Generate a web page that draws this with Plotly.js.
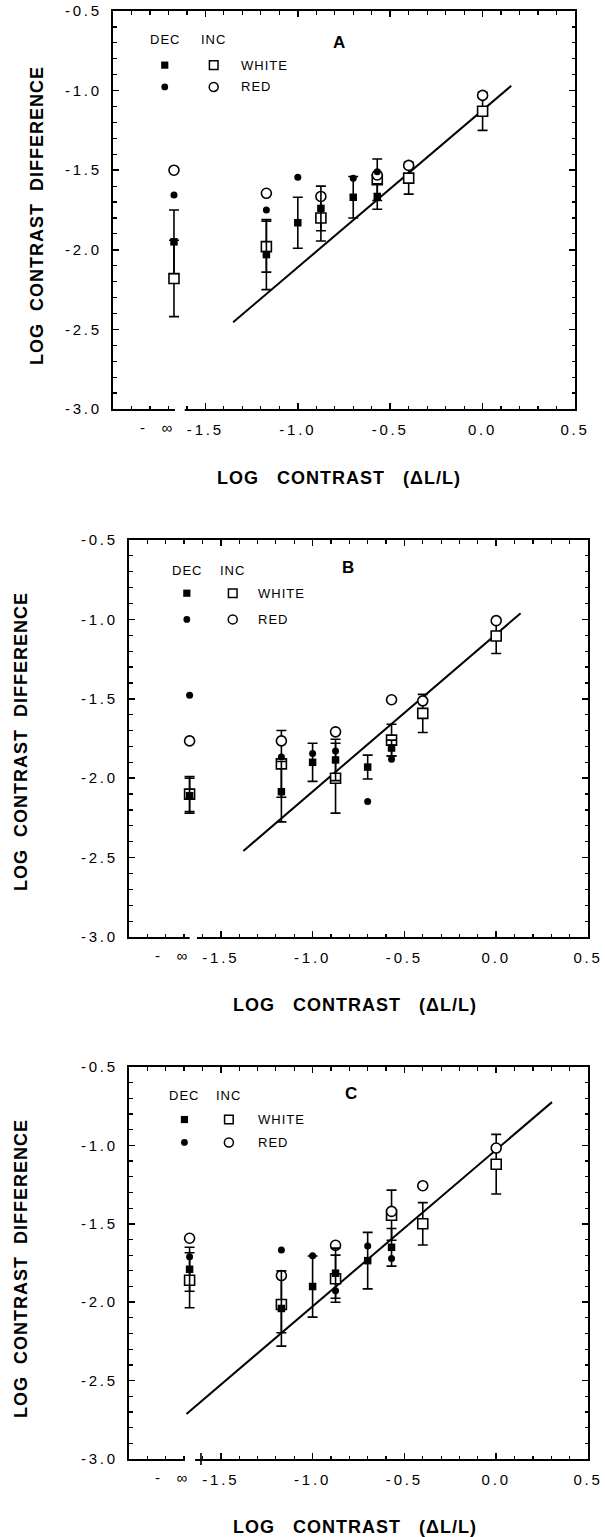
<!DOCTYPE html>
<html>
<head>
<meta charset="utf-8">
<script src="https://cdn.plot.ly/plotly-3.0.1.min.js"></script>
<style>
html,body{margin:0;padding:0;background:#fff;overflow:hidden;}
#chart{width:605px;height:1537px;}
g.xtick text, g.x2tick text, g.x3tick text, g.ytick text, g.y2tick text, g.y3tick text{letter-spacing:2.8px;}
.annotation-text{letter-spacing:1px;}
</style>
</head>
<body>
<div id="chart"></div>
<script>
// ---------- data ----------
const xDec = [-1.67, -1.17, -1.0, -0.875, -0.70, -0.57];   // first value = "-inf" column
const xInc = [-1.67, -1.17, -0.875, -0.57, -0.40, 0.0];

const xTickVals = [-1.5, -1.0, -0.5, 0.0, 0.5];
const xTickText = ['-1.5', '-1.0', '-0.5', '0.0', '0.5'];
const yTickVals = [-3.0, -2.5, -2.0, -1.5, -1.0, -0.5];
const yTickText = ['-3.0', '-2.5', '-2.0', '-1.5', '-1.0', '-0.5'];

// Panel A
const decWhiteA = [-1.95, -2.03, -1.83, -1.74, -1.67, -1.665];
const decWhiteErrA = [0.20, 0.22, 0.16, 0.14, 0.13, 0.08];
const decRedA = [-1.655, -1.75, -1.545, null, -1.55, -1.51];
const incWhiteA = [-2.18, -1.98, -1.80, -1.56, -1.55, -1.13];
const incWhiteErrA = [0.24, 0.16, 0.145, 0.13, 0.10, 0.12];
const incRedA = [-1.50, -1.645, -1.665, -1.53, -1.47, -1.03];
const lineXA = [-1.35, 0.155];
const lineYA = [-2.455, -0.97];

// Panel B
const decWhiteB = [-2.11, -2.085, -1.90, -1.885, -1.93, -1.81];
const decWhiteErrB = [0.11, 0.19, 0.12, 0.13, 0.075, 0.05];
const decRedB = [-1.477, -1.866, -1.845, -1.828, -2.146, -1.88];
const incWhiteB = [-2.10, -1.91, -2.00, -1.76, -1.592, -1.105];
const incWhiteErrB = [0.11, 0.21, 0.22, 0.10, 0.12, 0.11];
const incRedB = [-1.765, -1.765, -1.708, -1.506, -1.513, -1.008];
const lineXB = [-1.377, 0.133];
const lineYB = [-2.458, -0.961];

// Panel C
const decWhiteC = [-1.79, -2.04, -1.90, -1.815, -1.735, -1.65];
const decWhiteErrC = [0.14, 0.24, 0.195, 0.16, 0.18, 0.12];
const decRedC = [-1.71, -1.667, -1.704, -1.927, -1.641, -1.722];
const incWhiteC = [-1.86, -2.015, -1.85, -1.445, -1.50, -1.12];
const incWhiteErrC = [0.175, 0.18, 0.15, 0.16, 0.135, 0.19];
const incRedC = [-1.592, -1.83, -1.637, -1.421, -1.257, -1.017];
const lineXC = [-1.687, 0.304];
const lineYC = [-2.713, -0.724];

const panelLetters = ['A', 'B', 'C'];
const yTitle = 'LOG\u00A0\u00A0CONTRAST\u00A0\u00A0DIFFERENCE';
const xTitle = 'LOG\u00A0\u00A0\u00A0CONTRAST\u00A0\u00A0\u00A0(\u0394L/L)';
const infLabel = '-\u00A0\u00A0\u00A0\u221E';
const legendHead = ['DEC', 'INC'];
const legendRows = ['WHITE', 'RED'];

// ---------- layout geometry ----------
const W = 605, H = 1537;
const series = [
  {decW: decWhiteA, decWE: decWhiteErrA, decR: decRedA, incW: incWhiteA, incWE: incWhiteErrA, incR: incRedA, lx: lineXA, ly: lineYA},
  {decW: decWhiteB, decWE: decWhiteErrB, decR: decRedB, incW: incWhiteB, incWE: incWhiteErrB, incR: incRedB, lx: lineXB, ly: lineYB},
  {decW: decWhiteC, decWE: decWhiteErrC, decR: decRedC, incW: incWhiteC, incWE: incWhiteErrC, incR: incRedC, lx: lineXC, ly: lineYC}
];
const geom = [
  {id: '',  x0: 113, x1: 575, y0: 11,   y1: 409,  letter: [-0.774, -0.699], ytx: 37, yty: 216,  xtx: 339, xty: 478,
   leg: {dec: -1.72, inc: -1.455, txt: -1.32, hy: -0.676, wy: -0.84, ry: -0.977}, inf: -1.762, gap: [-1.665, -1.612], cross: null},
  {id: '2', x0: 129, x1: 588, y0: 540,  y1: 937,  letter: [-0.806, -0.672], ytx: 21, yty: 742,  xtx: 355, xty: 1005,
   leg: {dec: -1.685, inc: -1.435, txt: -1.31, hy: -0.695, wy: -0.835, ry: -1.0}, inf: -1.77, gap: [-1.67, -1.63], cross: null},
  {id: '3', x0: 129, x1: 588, y0: 1067, y1: 1459, letter: [-0.787, -0.668], ytx: 21, yty: 1269, xtx: 355, xty: 1527,
   leg: {dec: -1.698, inc: -1.456, txt: -1.31, hy: -0.684, wy: -0.835, ry: -0.981}, inf: -1.77, gap: [-1.695, -1.64], cross: -1.608}
];

const FONT = 'Liberation Sans, Arial, Helvetica, sans-serif';
const traces = [];
const shapes = [];
const annotations = [];
const layout = {
  width: W, height: H,
  margin: {l: 0, r: 0, t: 0, b: 0},
  paper_bgcolor: '#ffffff', plot_bgcolor: '#ffffff',
  showlegend: false,
  font: {family: FONT, color: '#000000', size: 13}
};

geom.forEach((g, i) => {
  const s = series[i];
  const xa = 'x' + g.id, ya = 'y' + g.id;
  const xName = 'xaxis' + g.id, yName = 'yaxis' + g.id;
  layout[xName] = {
    domain: [g.x0 / W, g.x1 / W], anchor: ya, range: [-2.0, 0.5],
    tickmode: 'array', tickvals: xTickVals, ticktext: xTickText,
    ticks: 'inside', ticklen: 6, tickwidth: 1.5, tickcolor: '#000',
    showline: true, linewidth: 2, linecolor: '#000', mirror: 'ticks',
    showgrid: false, zeroline: false, fixedrange: true,
    tickfont: {family: FONT, size: 15, color: '#000'}, ticklabelstandoff: 6,
    minor: {dtick: 0.1, tick0: 0, ticks: 'inside', ticklen: 3.5, tickwidth: 1.2, tickcolor: '#000', showgrid: false}
  };
  layout[yName] = {
    domain: [1 - g.y1 / H, 1 - g.y0 / H], anchor: xa, range: [-3.0, -0.5],
    tickmode: 'array', tickvals: yTickVals, ticktext: yTickText,
    ticks: 'inside', ticklen: 6, tickwidth: 1.5, tickcolor: '#000',
    showline: true, linewidth: 2, linecolor: '#000', mirror: 'ticks',
    showgrid: false, zeroline: false, fixedrange: true,
    tickfont: {family: FONT, size: 15, color: '#000'}, ticklabelstandoff: 6,
    minor: {dtick: 0.1, tick0: 0, ticks: 'inside', ticklen: 3.5, tickwidth: 1.2, tickcolor: '#000', showgrid: false}
  };

  // regression line
  traces.push({type: 'scatter', mode: 'lines', x: s.lx, y: s.ly, xaxis: xa, yaxis: ya,
    line: {color: '#000', width: 2}, hoverinfo: 'skip'});
  // INC white (open squares)
  traces.push({type: 'scatter', mode: 'markers', x: xInc, y: s.incW, xaxis: xa, yaxis: ya,
    marker: {symbol: 'square', size: 10, color: '#fff', line: {color: '#000', width: 1.6}},
    error_y: {type: 'data', array: s.incWE, visible: true, color: '#000', thickness: 1.6, width: 5}});
  // INC red (open circles)
  traces.push({type: 'scatter', mode: 'markers', x: xInc, y: s.incR, xaxis: xa, yaxis: ya,
    marker: {symbol: 'circle', size: 10, color: '#fff', line: {color: '#000', width: 1.6}}});
  // DEC white (filled squares)
  traces.push({type: 'scatter', mode: 'markers', x: xDec, y: s.decW, xaxis: xa, yaxis: ya,
    marker: {symbol: 'square', size: 7.5, color: '#000', line: {width: 0}},
    error_y: {type: 'data', array: s.decWE, visible: true, color: '#000', thickness: 1.6, width: 5}});
  // DEC red (filled circles)
  traces.push({type: 'scatter', mode: 'markers', x: xDec, y: s.decR, xaxis: xa, yaxis: ya,
    marker: {symbol: 'circle', size: 7, color: '#000', line: {width: 0}}});

  // axis break on bottom axis
  shapes.push({type: 'rect', layer: 'above', xref: xa, yref: ya + ' domain',
    x0: g.gap[0], x1: g.gap[1], ysizemode: 'pixel', yanchor: 0, y0: -4, y1: 4,
    fillcolor: '#fff', line: {width: 0}});
  if (g.cross !== null) {
    shapes.push({type: 'line', layer: 'above', xref: xa, yref: ya + ' domain',
      x0: g.cross, x1: g.cross, ysizemode: 'pixel', yanchor: 0, y0: -6, y1: 6,
      line: {color: '#000', width: 1.6}});
  }

  // legend keys
  const L = g.leg;
  const key = (type, xv, yv, half, filled) => shapes.push({type: type, layer: 'above', xref: xa, yref: ya,
    xsizemode: 'pixel', ysizemode: 'pixel', xanchor: xv, yanchor: yv,
    x0: -half, x1: half, y0: -half, y1: half,
    fillcolor: filled ? '#000' : '#fff', line: {color: '#000', width: filled ? 0 : 1.5}});
  key('rect', L.dec, L.wy, 3.6, true);
  key('rect', L.inc, L.wy, 4.3, false);
  key('circle', L.dec, L.ry, 3.4, true);
  key('circle', L.inc, L.ry, 4.5, false);

  const ann = (o) => annotations.push(Object.assign({showarrow: false, font: {family: FONT, size: 13, color: '#000'}}, o));
  ann({xref: xa, yref: ya, x: L.dec, y: L.hy, text: legendHead[0], xanchor: 'center', yanchor: 'middle'});
  ann({xref: xa, yref: ya, x: L.inc, y: L.hy, text: legendHead[1], xanchor: 'center', yanchor: 'middle'});
  ann({xref: xa, yref: ya, x: L.txt, y: L.wy, text: legendRows[0], xanchor: 'left', yanchor: 'middle'});
  ann({xref: xa, yref: ya, x: L.txt, y: L.ry, text: legendRows[1], xanchor: 'left', yanchor: 'middle'});
  // panel letter
  ann({xref: xa, yref: ya, x: g.letter[0], y: g.letter[1], text: '<b>' + panelLetters[i] + '</b>',
    xanchor: 'center', yanchor: 'middle', font: {family: FONT, size: 17, color: '#000'}});
  // "- inf" label
  ann({xref: xa, yref: ya, x: g.inf, y: -3.0, yshift: -18, text: infLabel,
    xanchor: 'center', yanchor: 'middle', font: {family: FONT, size: 15, color: '#000'}});
  // axis titles
  ann({xref: 'paper', yref: 'paper', x: g.ytx / W, y: 1 - g.yty / H, text: '<b>' + yTitle + '</b>',
    textangle: -90, xanchor: 'center', yanchor: 'middle', font: {family: FONT, size: 18, color: '#000'}});
  ann({xref: 'paper', yref: 'paper', x: g.xtx / W, y: 1 - g.xty / H, text: '<b>' + xTitle + '</b>',
    xanchor: 'center', yanchor: 'middle', font: {family: FONT, size: 18, color: '#000'}});
});

layout.shapes = shapes;
layout.annotations = annotations;

Plotly.newPlot('chart', traces, layout, {staticPlot: true, displayModeBar: false});
</script>
</body>
</html>
